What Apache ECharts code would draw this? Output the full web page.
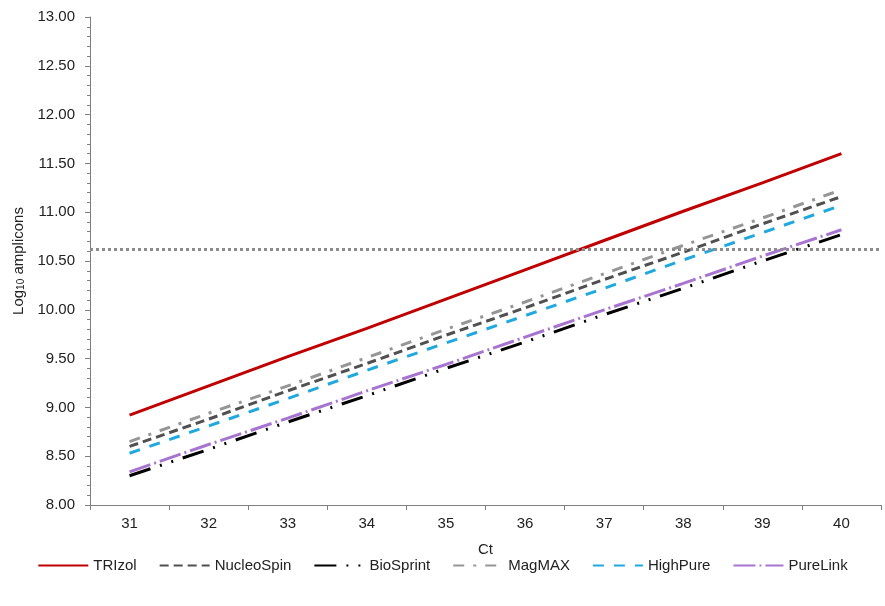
<!DOCTYPE html>
<html>
<head>
<meta charset="utf-8">
<script src="https://cdn.jsdelivr.net/npm/echarts@6/dist/echarts.min.js"></script>
<style>html,body{margin:0;padding:0;background:#fff;}#c{width:885px;height:606px;}</style>
</head>
<body>
<div id="c"></div>
<script>
var categories = ['31','32','33','34','35','36','37','38','39','40'];
var trizol     = [8.92, 9.22, 9.52, 9.81, 10.11, 10.41, 10.71, 11.01, 11.30, 11.60];
var nucleoSpin = [8.60, 8.88, 9.17, 9.45, 9.74, 10.02, 10.31, 10.59, 10.88, 11.16];
var bioSprint  = [8.30, 8.57, 8.85, 9.12, 9.40, 9.67, 9.95, 10.22, 10.50, 10.77];
var magMAX     = [8.65, 8.94, 9.22, 9.51, 9.80, 10.08, 10.37, 10.66, 10.94, 11.23];
var highPure   = [8.53, 8.81, 9.09, 9.38, 9.66, 9.94, 10.22, 10.51, 10.79, 11.07];
var pureLink   = [8.34, 8.62, 8.89, 9.17, 9.44, 9.72, 10.00, 10.27, 10.55, 10.82];
var threshold  = [10.62];

var FONT = '"Liberation Sans", Arial, sans-serif';
function ser(name, data, color, type) {
  return {
    name: name, type: 'line', data: data, symbol: 'none', showSymbol: false,
    lineStyle: { color: color, width: 3, type: type, cap: 'butt' },
    itemStyle: { color: color }, z: 3
  };
}
var series = [
  ser('TRIzol', trizol, '#C00000', 'solid'),
  ser('NucleoSpin', nucleoSpin, '#505050', [9, 5]),
  ser('BioSprint', bioSprint, '#000000', [22, 10, 2, 10, 2, 10]),
  ser('MagMAX', magMAX, '#969696', [11, 9, 3, 9]),
  ser('HighPure', highPure, '#21A8DE', [11, 10]),
  ser('PureLink', pureLink, '#A775CF', [22, 4, 2, 4])
];
series[0].markLine = {
  silent: true, symbol: 'none', label: { show: false },
  lineStyle: { color: '#8C8C8C', width: 3, type: [3, 3], cap: 'butt' },
  data: threshold.map(function (v) { return { yAxis: v }; })
};

var chart = echarts.init(document.getElementById('c'));
chart.setOption({
  animation: false,
  backgroundColor: '#fff',
  textStyle: { fontFamily: FONT },
  grid: { left: 90, right: 4, top: 17, bottom: 101, containLabel: false },
  xAxis: {
    type: 'category', data: categories, boundaryGap: true,
    name: 'Ct', nameLocation: 'middle', nameGap: 37,
    nameTextStyle: { fontSize: 15, color: '#222', fontFamily: FONT },
    axisLine: { lineStyle: { color: '#808080', width: 1 } },
    axisTick: { show: true, alignWithLabel: false, length: 5, lineStyle: { color: '#808080' } },
    axisLabel: { fontSize: 15, color: '#222', margin: 11, fontFamily: FONT },
    splitLine: { show: false }
  },
  yAxis: {
    type: 'value', min: 8, max: 13, interval: 0.5,
    name: '{a|Log}{s|10}{a| amplicons}', nameLocation: 'middle', nameGap: 62, nameRotate: 90,
    nameTextStyle: {
      rich: {
        a: { fontSize: 15, color: '#222', fontFamily: FONT },
        s: { fontSize: 10, color: '#222', fontFamily: FONT, verticalAlign: 'bottom', padding: [6, 0, 0, 0] }
      }
    },
    axisLine: { show: true, lineStyle: { color: '#808080', width: 1 } },
    axisTick: { show: true, length: 5, lineStyle: { color: '#808080' } },
    minorTick: { show: true, splitNumber: 5, length: 3, lineStyle: { color: '#808080' } },
    axisLabel: { fontSize: 15, color: '#222', margin: 15, fontFamily: FONT,
      formatter: function (v) { return v.toFixed(2); } },
    splitLine: { show: false }
  },
  legend: {
    bottom: 28, left: 'center', itemWidth: 50, itemHeight: 14, itemGap: 22,
    itemStyle: { opacity: 0 },
    textStyle: { fontSize: 15, color: '#222', fontFamily: FONT },
    data: ['TRIzol', 'NucleoSpin', 'BioSprint', 'MagMAX', 'HighPure', 'PureLink']
  },
  series: series
});
</script>
</body>
</html>
